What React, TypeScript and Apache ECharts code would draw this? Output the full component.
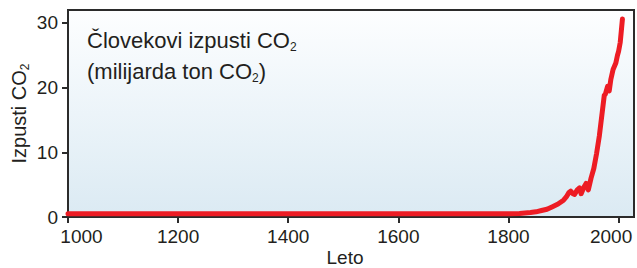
import React, { useEffect, useRef } from "react";
import * as echarts from "echarts";

const years = [
  1000, 1100, 1200, 1300, 1400, 1500, 1600, 1700, 1750, 1800, 1820, 1840, 1850, 1860, 1870, 1880,
  1890, 1900, 1905, 1910, 1913, 1917, 1920, 1925, 1929, 1932, 1937, 1941, 1945, 1950, 1955,
  1960, 1965, 1970, 1974, 1976, 1980, 1983, 1986, 1990, 1995, 1998, 2000, 2003, 2005, 2007,
];
const emissions = [
  0.5, 0.5, 0.5, 0.5, 0.5, 0.5, 0.5, 0.5, 0.5, 0.5, 0.55, 0.7, 0.8, 1.0, 1.2, 1.6,
  2.0, 2.6, 3.1, 3.8, 4.0, 3.6, 3.5, 4.2, 4.5, 3.6, 4.6, 5.2, 4.2, 6.0, 7.5,
  9.8, 12.5, 16.0, 18.8, 19.0, 20.2, 19.5, 21.3, 22.8, 23.8, 25.0, 25.6, 27.0, 28.8, 30.6,
];
const xTicks = [1000, 1200, 1400, 1600, 1800, 2000];
const yTicks = [0, 10, 20, 30];
const titleLine1 = "Človekovi izpusti CO";
const titleLine2 = "(milijarda ton CO";
const yAxisName = "Izpusti CO";
const xAxisName = "Leto";

const FONT = "Liberation Sans, Arial, sans-serif";
const TEXT = "#231f20";
const DARK = "#2b2b2b";

export default function App() {
  const ref = useRef<HTMLDivElement>(null);
  useEffect(() => {
    if (!ref.current) return;
    const chart = echarts.init(ref.current, null, { renderer: "svg" });
    const sub = { fontSize: 12, fontFamily: FONT, color: TEXT, verticalAlign: "bottom", lineHeight: 12 };
    const main = { fontSize: 22, fontFamily: FONT, color: TEXT, lineHeight: 26 };
    chart.setOption({
      animation: false,
      grid: {
        left: 68,
        right: 3,
        top: 10,
        bottom: 51,
        outerBoundsMode: "none",
        show: true,
        borderColor: DARK,
        borderWidth: 2,
        backgroundColor: new echarts.graphic.LinearGradient(0, 0, 0, 1, [
          { offset: 0, color: "#fdfeff" },
          { offset: 1, color: "#dbeaf3" },
        ]),
      },
      xAxis: {
        type: "value",
        min: 1000,
        max: 2028,
        interval: 200,
        name: xAxisName,
        nameLocation: "middle",
        nameGap: 31,
        nameMoveOverlap: false,
        nameTextStyle: { fontSize: 19, lineHeight: 19, fontFamily: FONT, color: TEXT, padding: [0, 12, 0, 0] },
        axisLine: { show: true, onZero: false, lineStyle: { color: DARK, width: 2 } },
        axisTick: { show: true, customValues: xTicks, length: 6, lineStyle: { color: DARK, width: 2 } },
        axisLabel: {
          customValues: xTicks,
          fontSize: 19,
          fontFamily: FONT,
          color: TEXT,
          margin: 10,
          formatter: (v: number) => {
            if (v === xTicks[0]) return "{first|" + v + "}";
            if (v === xTicks[xTicks.length - 1]) return "{last|" + v + "}";
            return String(v);
          },
          rich: {
            first: { fontSize: 19, fontFamily: FONT, color: TEXT, padding: [0, 0, 0, 27] },
            last: { fontSize: 19, fontFamily: FONT, color: TEXT, padding: [0, 15, 0, 0] },
          },
        },
        splitLine: { show: false },
      },
      yAxis: {
        type: "value",
        min: 0,
        max: 32,
        interval: 10,
        name: "{m|" + yAxisName + "}{s|2}",
        nameLocation: "middle",
        nameRotate: 90,
        nameGap: 37,
        nameMoveOverlap: false,
        nameTextStyle: {
          fontSize: 20,
          fontFamily: FONT,
          color: TEXT,
          rich: { m: { ...main, fontSize: 20, lineHeight: 24 }, s: sub },
        },
        axisLine: { show: true, lineStyle: { color: DARK, width: 2 } },
        axisTick: { show: true, customValues: yTicks, length: 6, lineStyle: { color: DARK, width: 2 } },
        axisLabel: { customValues: yTicks, fontSize: 19, fontFamily: FONT, color: TEXT, margin: 10 },
        splitLine: { show: false },
      },
      graphic: [
        {
          type: "text",
          left: 87,
          top: 29,
          style: {
            text: "{m|" + titleLine1 + "}{s|2}",
            fontSize: 22,
            fontFamily: FONT,
            fill: TEXT,
            rich: { m: main, s: sub },
          },
          z: 10,
        },
        {
          type: "text",
          left: 87,
          top: 60,
          style: {
            text: "{m|" + titleLine2 + "}{s|2}{m|)}",
            fontSize: 22,
            fontFamily: FONT,
            fill: TEXT,
            rich: { m: main, s: sub },
          },
          z: 10,
        },
      ],
      series: [
        {
          type: "line",
          data: years.map((y, i) => [y, emissions[i]]),
          showSymbol: false,
          symbol: "none",
          lineStyle: { color: "#ed1c24", width: 5, cap: "round", join: "round" },
          z: 3,
        },
      ],
    });
    return () => chart.dispose();
  }, []);
  return <div ref={ref} style={{ width: 637, height: 268, position: "absolute", left: 0, top: 0 }} />;
}
